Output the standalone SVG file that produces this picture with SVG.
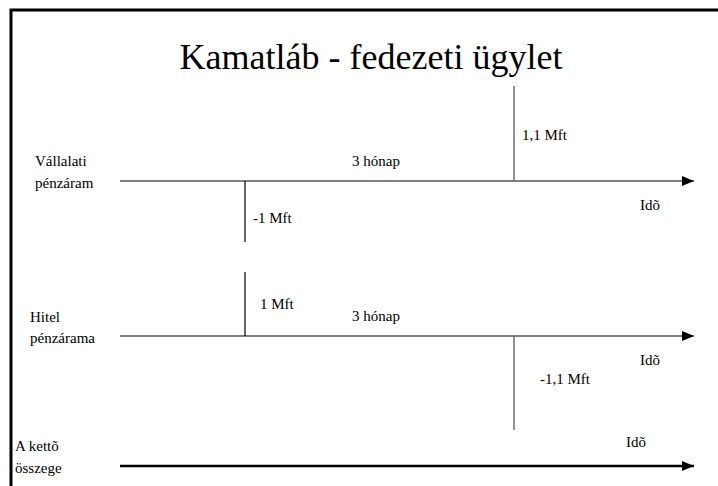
<svg xmlns="http://www.w3.org/2000/svg" width="718" height="486" viewBox="0 0 718 486">
  <defs>
    <marker id="arrow" markerWidth="12" markerHeight="10" refX="12" refY="5" orient="auto" markerUnits="userSpaceOnUse">
      <path d="M0,0 L12,5 L0,10 Z" fill="#000"/>
    </marker>
    <style>
      .serif { font-family: 'Liberation Serif', 'Times New Roman', Times, 'DejaVu Serif', serif; }
      .lbl { font-size: 15px; }
      .title { font-size: 36px; }
      .axis { stroke: #555; stroke-width: 1.6; fill: none; }
      .axis-bold { stroke: #000; stroke-width: 2.4; fill: none; }
      .tick { stroke: #000; stroke-width: 1.2; }
      .tick-gray { stroke: #666; stroke-width: 1.4; }
    </style>
  </defs>
  <rect width="718" height="486" fill="#fff"/>
  <!-- slide frame: only top and left edges fall inside the view -->
  <path d="M11,486 V10 H718" fill="none" stroke="#000" stroke-width="3"/>

  <g class="serif" fill="#000">
    <text class="title" x="371" y="69" text-anchor="middle">Kamatláb - fedezeti ügylet</text>

    <g id="vallalati">
      <text class="lbl" x="35" y="166">Vállalati</text>
      <text class="lbl" x="35" y="188">pénzáram</text>
      <text class="lbl" x="352" y="166">3 hónap</text>
      <text class="lbl" x="522" y="140">1,1 Mft</text>
      <text class="lbl" x="253" y="223">-1 Mft</text>
      <text class="lbl" x="640" y="210">Idõ</text>
    </g>

    <g id="hitel">
      <text class="lbl" x="30" y="322">Hitel</text>
      <text class="lbl" x="30" y="343">pénzárama</text>
      <text class="lbl" x="260" y="309">1 Mft</text>
      <text class="lbl" x="352" y="321">3 hónap</text>
      <text class="lbl" x="640" y="365">Idõ</text>
      <text class="lbl" x="540" y="384">-1,1 Mft</text>
    </g>

    <g id="osszeg">
      <text class="lbl" x="15" y="451">A kettõ</text>
      <text class="lbl" x="15" y="473">összege</text>
      <text class="lbl" x="626" y="447">Idõ</text>
    </g>
  </g>

  <g id="connectors">
    <line class="axis" x1="120" y1="181" x2="694" y2="181" marker-end="url(#arrow)"/>
    <line class="tick" x1="245" y1="181" x2="245" y2="242"/>
    <line class="tick-gray" x1="514" y1="86" x2="514" y2="181"/>

    <line class="axis" x1="120" y1="336" x2="694" y2="336" marker-end="url(#arrow)"/>
    <line class="tick" x1="245" y1="272" x2="245" y2="336"/>
    <line class="tick-gray" x1="514" y1="336" x2="514" y2="430"/>

    <line class="axis-bold" x1="120" y1="466" x2="694" y2="466" marker-end="url(#arrow)"/>
  </g>
</svg>
